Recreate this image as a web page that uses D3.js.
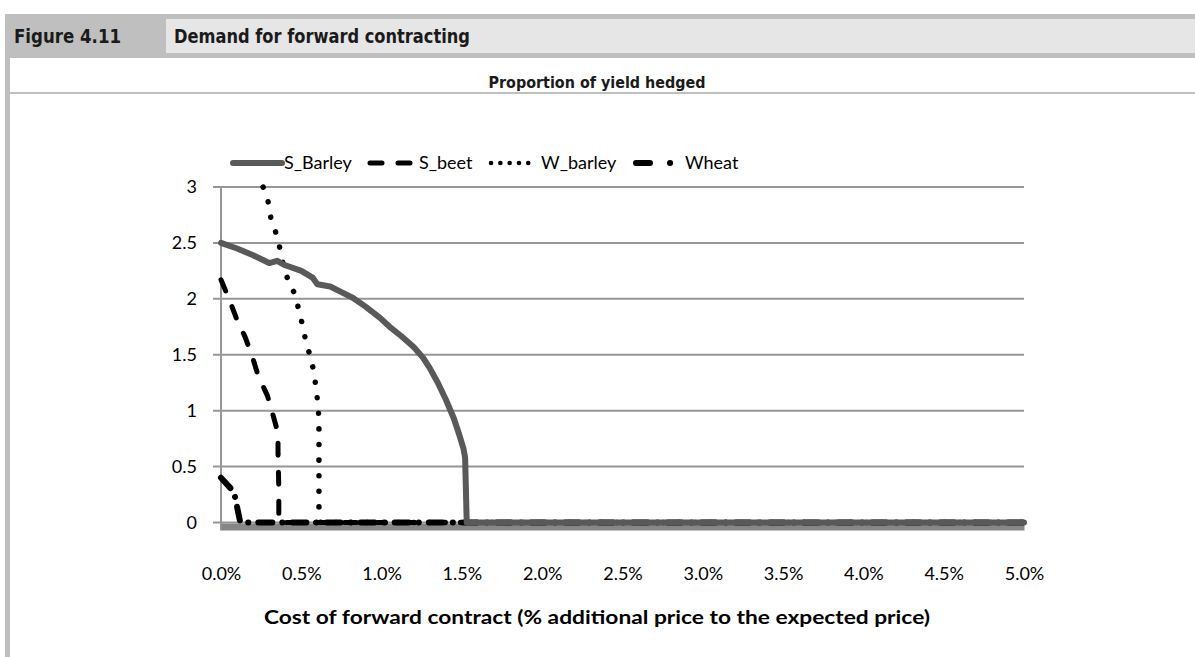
<!DOCTYPE html>
<html>
<head>
<meta charset="utf-8">
<script src="https://cdn.jsdelivr.net/npm/d3@7"></script>
<style>
  body { margin: 0; background: #fff; }
  svg { display: block; }
</style>
</head>
<body>
<div id="container"></div>
<script>
// cost of forward contract (fraction) and proportion hedged
const sBarleyX = [0, 0.0010, 0.0020, 0.0030, 0.0035, 0.0040, 0.0050, 0.0057, 0.0060, 0.0068, 0.0075, 0.0082, 0.0090, 0.0099, 0.0105, 0.0112, 0.0120, 0.0126, 0.0130, 0.0135, 0.0140, 0.0145, 0.0148, 0.0151, 0.0152, 0.0153, 0.0500];
const sBarleyY = [2.5, 2.45, 2.39, 2.32, 2.34, 2.30, 2.25, 2.19, 2.13, 2.11, 2.06, 2.01, 1.93, 1.83, 1.75, 1.67, 1.57, 1.47, 1.38, 1.25, 1.10, 0.93, 0.80, 0.66, 0.58, 0, 0];

const sBeetX = [0, 0.0005, 0.0010, 0.0015, 0.0020, 0.0023, 0.0029, 0.0032, 0.00355, 0.00355, 0.0036, 0.0036, 0.0500];
const sBeetY = [2.17, 2.0, 1.81, 1.66, 1.46, 1.32, 1.13, 0.98, 0.80, 0.62, 0.30, 0, 0];

const wBarleyX = [0.00262, 0.00293, 0.00311, 0.00342, 0.00367, 0.00386, 0.00417, 0.00467, 0.00486, 0.00511, 0.00529, 0.0056, 0.00579, 0.00592, 0.00604, 0.0061, 0.0061, 0.0062, 0.0500];
const wBarleyY = [3.0, 2.87, 2.72, 2.59, 2.45, 2.31, 2.17, 2.02, 1.88, 1.75, 1.61, 1.47, 1.34, 1.20, 1.05, 0.92, 0.07, 0, 0];

const wheatX = [0, 0.0007, 0.00087, 0.0012, 0.0500];
const wheatY = [0.40, 0.29, 0.23, 0, 0];

const seriesNames = ["S_Barley", "S_beet", "W_barley", "Wheat"];
const yTicks = [0, 0.5, 1, 1.5, 2, 2.5, 3];
const xTicks = [0, 0.005, 0.01, 0.015, 0.02, 0.025, 0.03, 0.035, 0.04, 0.045, 0.05];

const figLabel = "Figure 4.11";
const figTitle = "Demand for forward contracting";
const chartTitle = "Proportion of yield hedged";
const xTitle = "Cost of forward contract (% additional price to the expected price)";

const width = 1195, height = 657;
const plotLeft = 221, plotRight = 1024, plotTop = 187, plotBottom = 522.5;

const svg = d3.select("#container").append("svg")
  .attr("width", width).attr("height", height);

const headFont = "'DejaVu Sans Condensed','Liberation Sans Narrow',sans-serif";
const bodyFont = "Lato,'Open Sans',sans-serif";

// frame / header
svg.append("rect").attr("x", 5).attr("y", 14).attr("width", width - 5).attr("height", 44).attr("fill", "#bfbfbf");
svg.append("rect").attr("x", 166).attr("y", 19).attr("width", width - 166).attr("height", 34).attr("fill", "#e6e6e6");
svg.append("rect").attr("x", 5).attr("y", 58).attr("width", 5).attr("height", height - 58).attr("fill", "#bfbfbf");
svg.append("rect").attr("x", 10).attr("y", 92).attr("width", width - 10).attr("height", 2).attr("fill", "#bfbfbf");

svg.append("text").attr("x", 14).attr("y", 43).text(figLabel)
  .attr("font-family", headFont).attr("font-weight", "bold").attr("font-size", 20).attr("fill", "#1a1a1a")
  .attr("textLength", 107).attr("lengthAdjust", "spacingAndGlyphs");
svg.append("text").attr("x", 174).attr("y", 43).text(figTitle)
  .attr("font-family", headFont).attr("font-weight", "bold").attr("font-size", 20).attr("fill", "#1a1a1a")
  .attr("textLength", 296).attr("lengthAdjust", "spacingAndGlyphs");
svg.append("text").attr("x", 597).attr("y", 88).attr("text-anchor", "middle").text(chartTitle)
  .attr("font-family", headFont).attr("font-weight", "bold").attr("font-size", 15).attr("fill", "#1a1a1a")
  .attr("textLength", 217).attr("lengthAdjust", "spacingAndGlyphs");

const x = d3.scaleLinear().domain([0, 0.05]).range([plotLeft, plotRight]);
const y = d3.scaleLinear().domain([0, 3]).range([plotBottom, plotTop]);

// gridlines
svg.append("g").selectAll("line").data(yTicks).join("line")
  .attr("x1", plotLeft - 8).attr("x2", plotRight)
  .attr("y1", d => y(d)).attr("y2", d => y(d))
  .attr("stroke", "#969696").attr("stroke-width", 2);

// y axis
const yAxis = svg.append("g").attr("transform", `translate(${plotLeft},0)`)
  .call(d3.axisLeft(y).tickValues(yTicks).tickSize(0).tickPadding(24).tickFormat(d3.format("")));
yAxis.select(".domain").attr("stroke", "#969696").attr("stroke-width", 2).attr("d", `M0,${plotTop}V${plotBottom + 8}`);
yAxis.selectAll("text").attr("font-family", bodyFont).attr("font-size", 18).attr("fill", "#000");

// x axis (thick gray baseline)
const xAxis = svg.append("g").attr("transform", `translate(0,${plotBottom + 4})`)
  .call(d3.axisBottom(x).tickValues(xTicks).tickSize(0).tickPadding(41).tickFormat(d3.format(".1%")));
xAxis.select(".domain").attr("stroke", "#868686").attr("stroke-width", 7);
xAxis.selectAll("text").attr("font-family", bodyFont).attr("font-size", 18).attr("fill", "#000");

svg.append("text").attr("x", 597).attr("y", 624).attr("text-anchor", "middle").text(xTitle)
  .attr("font-family", bodyFont).attr("font-weight", "bold").attr("font-size", 19).attr("fill", "#000")
  .attr("textLength", 666).attr("lengthAdjust", "spacingAndGlyphs");

const styles = [
  { color: "#595959", width: 6, dash: null },
  { color: "#000", width: 5, dash: "12,17" },
  { color: "#000", width: 5.5, dash: "0.1,15.5" },
  { color: "#000", width: 6, dash: "14,10,0.1,10" }
];
const series = [
  d3.zip(sBarleyX, sBarleyY),
  d3.zip(sBeetX, sBeetY),
  d3.zip(wBarleyX, wBarleyY),
  d3.zip(wheatX, wheatY)
];

const line = d3.line().x(d => x(d[0])).y(d => y(d[1]));

// draw dashed series first, S_Barley on top along its curve
[1, 2, 3, 0].forEach(i => {
  svg.append("path").datum(series[i])
    .attr("d", line)
    .attr("fill", "none")
    .attr("stroke", styles[i].color)
    .attr("stroke-width", styles[i].width)
    .attr("stroke-linecap", "round")
    .attr("stroke-linejoin", "round")
    .attr("stroke-dasharray", styles[i].dash);
});

// legend
const legendPos = [
  { x1: 233, x2: 282, tx: 284 },
  { x1: 370, x2: 410, tx: 419 },
  { x1: 491, x2: 537, tx: 541 },
  { x1: 636, x2: 675, tx: 685 }
];
const legendDash = [null, "12,16", "0.1,9.2", "14,20,0.1,40"];
const legendY = 163;
const lg = svg.append("g");
seriesNames.forEach((name, i) => {
  lg.append("line")
    .attr("x1", legendPos[i].x1).attr("x2", legendPos[i].x2)
    .attr("y1", legendY).attr("y2", legendY)
    .attr("stroke", styles[i].color)
    .attr("stroke-width", i === 2 ? 4.5 : styles[i].width)
    .attr("stroke-linecap", "round")
    .attr("stroke-dasharray", legendDash[i]);
  lg.append("text").attr("x", legendPos[i].tx).attr("y", legendY + 6).text(name)
    .attr("font-family", bodyFont).attr("font-size", 18).attr("fill", "#000");
});
</script>
</body>
</html>
